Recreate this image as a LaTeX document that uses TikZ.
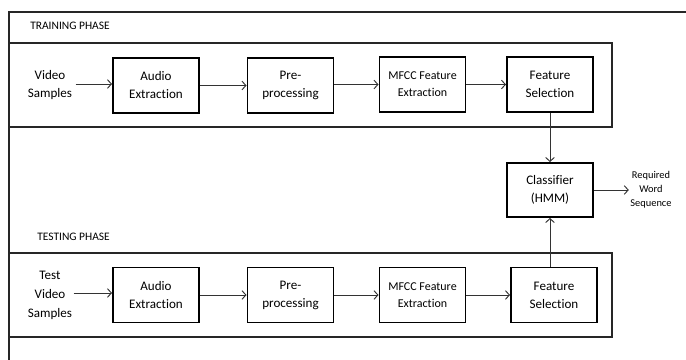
\documentclass[tikz,border=0pt]{standalone}
\usepackage{fontspec}
\setmainfont[Ligatures=NoCommon]{Carlito}
\usetikzlibrary{arrows.meta,calc}
\begin{document}
\begin{tikzpicture}[x=0.75pt,y=-0.75pt,
  blk/.style={draw=black,line width=1.4pt,minimum width=86*0.75pt,minimum height=55*0.75pt,inner sep=0pt,align=center,font=\fontsize{9.8}{13.5}\selectfont},
  mfcc/.style={blk,font=\fontsize{9}{12.8}\selectfont},
  frame/.style={draw=black!85,line width=1.2pt},
  lbl/.style={align=center,inner sep=1pt,font=\fontsize{9.8}{14.2}\selectfont},
  phase/.style={anchor=west,inner sep=0pt,font=\fontsize{8.6}{10}\selectfont},
  arr/.style={draw=black!80,line width=0.7pt,-{Straight Barb[length=3pt,width=6.5pt]}}]
\useasboundingbox (0,0) rectangle (686,360);
% outer frame (only top and left edges visible)
\draw[frame] (686,12) -- (9,12) -- (9,360);
% phase boxes
\draw[frame] (9,43) rectangle (612,127);
\draw[frame] (9,253) rectangle (612,337);
\node[phase] (trp) at (30,26) {TRAINING PHASE};
\node[phase] (tsp) at (37,237) {TESTING PHASE};
% training row
\node[lbl] (vs) at (50,85) {Video\\Samples};
\node[blk] (ae1) at (156,85.5) {Audio\\Extraction};
\node[blk] (pp1) at (290.5,85.5) {Pre-\\processing};
\node[mfcc] (mf1) at (422.5,84.5) {MFCC Feature\\Extraction};
\node[blk] (fs1) at (550,84.5) {Feature\\Selection};
% classifier
\node[blk,minimum height=54*0.75pt] (cls) at (550,190) {Classifier\\(HMM)};
\node[lbl,font=\fontsize{7.8}{10.5}\selectfont] (out) at (651,190) {Required\\Word\\Sequence};
% testing row
\node[lbl] (tvs) at (50,295) {Test\\Video\\Samples};
\node[blk] (ae2) at (156,295) {Audio\\Extraction};
\node[blk] (pp2) at (290.5,295) {Pre-\\processing};
\node[mfcc] (mf2) at (422.5,295) {MFCC Feature\\Extraction};
\node[blk] (fs2) at (554,295) {Feature\\Selection};
% connectors
\draw[arr] (vs.east) ++(2,-1) coordinate (vse) (vse) -- (ae1.west |- vse);
\draw[arr] (ae1) -- (pp1);
\draw[arr] (pp1.east |- mf1) -- (mf1);
\draw[arr] (mf1) -- (fs1);
\draw[arr] (fs1.south) -- (cls.north);
\draw[arr] (cls.east) -- (out.west);
\draw[arr] (tvs.east) ++(0,-2) coordinate (tvse) (tvse) -- (ae2.west |- tvse);
\draw[arr] (ae2) -- (pp2);
\draw[arr] (pp2) -- (mf2);
\draw[arr] (mf2) -- (fs2);
\draw[arr] (cls.south |- fs2.north) coordinate (fs2n) (fs2n) -- (cls.south);
\end{tikzpicture}
\end{document}
